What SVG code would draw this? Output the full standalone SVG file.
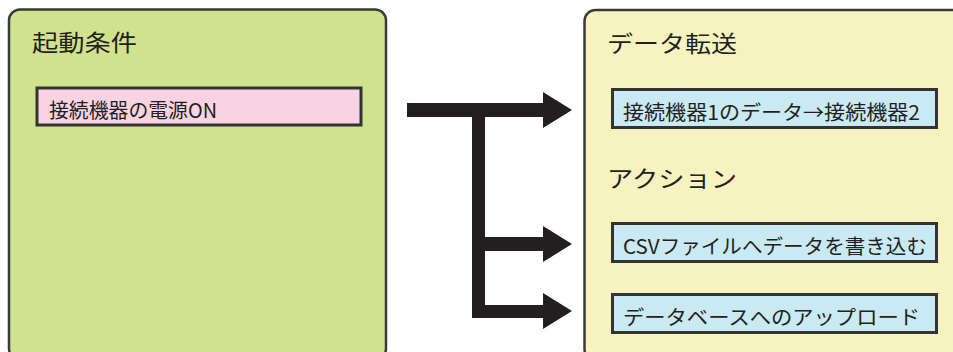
<svg xmlns="http://www.w3.org/2000/svg" xmlns:xlink="http://www.w3.org/1999/xlink" width="953" height="352" viewBox="0 0 953 352">
  <style>
    .panel { stroke: #3a3a3a; stroke-width: 2.5; }
    .box { stroke: #333333; stroke-width: 3; }
    .title { font-family: "Noto Sans CJK JP", "Noto Sans", sans-serif; font-size: 23px; fill: #231f20; }
    .label { font-family: "Noto Sans CJK JP", "Noto Sans", sans-serif; font-size: 20px; fill: #231f20; }
    .flow { fill: #231f20; }
  </style>
  <defs>
    <polygon id="head" points="0,-18 29,0 0,18"/>
  </defs>

  <!-- trigger panel -->
  <g id="trigger">
    <rect class="panel" x="9" y="9.5" width="377" height="350" rx="11" fill="#d1e28e"/>
    <text class="title" x="32" y="51" textLength="105" lengthAdjust="spacingAndGlyphs">起動条件</text>
  </g>
  <g id="power-on">
    <rect class="box" x="37" y="88" width="324" height="37" fill="#f9d3e2"/>
    <text class="label" x="49" y="118" textLength="168" lengthAdjust="spacingAndGlyphs">接続機器の電源ON</text>
  </g>

  <!-- result panel -->
  <g id="results">
    <rect class="panel" x="584.5" y="10" width="400" height="350" rx="11" fill="#f7f3c0"/>
    <text class="title" x="607" y="52" textLength="130" lengthAdjust="spacingAndGlyphs">データ転送</text>
    <text class="title" x="607" y="187" textLength="130" lengthAdjust="spacingAndGlyphs">アクション</text>
  </g>
  <g id="transfer">
    <rect class="box" x="612.5" y="89.5" width="324" height="38" fill="#c9e9f3"/>
    <text class="label" x="623" y="120" textLength="297" lengthAdjust="spacingAndGlyphs">接続機器1のデータ→接続機器2</text>
  </g>
  <g id="csv">
    <rect class="box" x="612.5" y="223.5" width="324" height="38" fill="#c9e9f3"/>
    <text class="label" x="623" y="254" textLength="304" lengthAdjust="spacingAndGlyphs">CSVファイルへデータを書き込む</text>
  </g>
  <g id="database">
    <rect class="box" x="612.5" y="294.5" width="324" height="38" fill="#c9e9f3"/>
    <text class="label" x="623" y="325" textLength="297" lengthAdjust="spacingAndGlyphs">データベースへのアップロード</text>
  </g>

  <!-- branching arrows -->
  <g id="connectors" class="flow">
    <rect x="407" y="103" width="137" height="14"/>
    <use xlink:href="#head" x="543" y="110"/>
    <rect x="472" y="103" width="13" height="215"/>
    <rect x="484" y="237" width="60" height="14"/>
    <use xlink:href="#head" x="543" y="244"/>
    <rect x="472" y="305" width="72" height="13"/>
    <use xlink:href="#head" x="543" y="311"/>
  </g>
</svg>
